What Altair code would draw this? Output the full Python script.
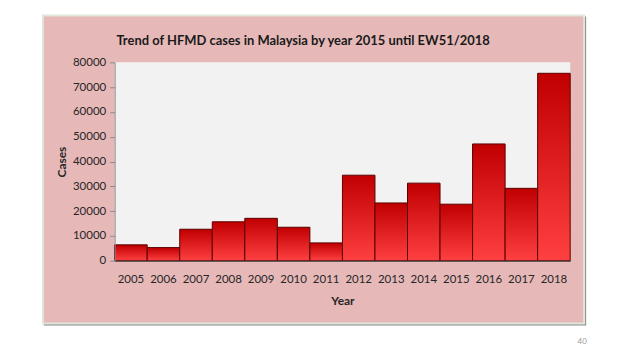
import altair as alt
import pandas as pd

years = ["2005", "2006", "2007", "2008", "2009", "2010", "2011",
         "2012", "2013", "2014", "2015", "2016", "2017", "2018"]
cases = [6400, 5300, 12700, 15700, 17100, 13500, 7200,
         34500, 23300, 31300, 22800, 47100, 29200, 75600]
y_ticks = [0, 10000, 20000, 30000, 40000, 50000, 60000, 70000, 80000]

title_text = "Trend of HFMD cases in Malaysia by year 2015 until EW51/2018"
page_no = "40"

W, H = 457, 199
FONT = "Lato"

df = pd.DataFrame({"Year": years, "Cases": cases})
one = pd.DataFrame({"a": [0]})

shadow = alt.Chart(one).mark_rect(fill="#8a8a8a").encode(
    x=alt.value(-71), x2=alt.value(473), y=alt.value(-46), y2=alt.value(264)
)
box = alt.Chart(one).mark_rect(fill="#e6b9b8", stroke="#dfe6da", strokeWidth=2).encode(
    x=alt.value(-72), x2=alt.value(471), y=alt.value(-47), y2=alt.value(262)
)
plotbg = alt.Chart(one).mark_rect(fill="#f2f2f2").encode(
    x=alt.value(0), x2=alt.value(W), y=alt.value(0), y2=alt.value(H)
)

grad = alt.Gradient(
    gradient="linear",
    stops=[alt.GradientStop(color="#c00000", offset=0),
           alt.GradientStop(color="#ff4040", offset=1)],
    x1=0, x2=0, y1=0, y2=1,
)

bars = alt.Chart(df).mark_bar(color=grad, stroke="#5a0000", strokeWidth=1).encode(
    x=alt.X("Year:N", sort=years,
            scale=alt.Scale(paddingInner=0, paddingOuter=0),
            axis=alt.Axis(title="Year", labelAngle=0, ticks=False,
                          domainColor="#404040", zindex=1,
                          labelFont=FONT, labelFontSize=11.5, labelColor="#262626",
                          labelPadding=13,
                          titleFont=FONT, titleFontSize=12, titleFontWeight="bold",
                          titleColor="#262626", titlePadding=10)),
    y=alt.Y("Cases:Q", scale=alt.Scale(domain=[0, 80000]),
            axis=alt.Axis(title="Cases", values=y_ticks, grid=False, format="d",
                          domainColor="#8c8c8c", tickColor="#8c8c8c", tickSize=5,
                          zindex=1,
                          labelFont=FONT, labelFontSize=11.5, labelColor="#262626",
                          labelPadding=4,
                          titleFont=FONT, titleFontSize=12, titleFontWeight="bold",
                          titleColor="#262626", titlePadding=4)),
)

title = alt.Chart(one).mark_text(font=FONT, fontSize=13, fontWeight="bold",
                                 color="#1a1a1a", align="center",
                                 baseline="alphabetic").encode(
    x=alt.value(189), y=alt.value(-17), text=alt.value(title_text)
)

page = alt.Chart(one).mark_text(font=FONT, fontSize=8, color="#9a9a9a").encode(
    x=alt.value(469), y=alt.value(281), text=alt.value(page_no)
)

chart = alt.layer(shadow, box, plotbg, bars, title, page).properties(
    width=W, height=H,
    autosize=alt.AutoSizeParams(type="none"),
    padding={"left": 107, "top": 54, "right": 60, "bottom": 88},
    background="white",
).configure_view(stroke=None)

chart.save("out.html", embed_options={"renderer": "svg", "actions": False})
